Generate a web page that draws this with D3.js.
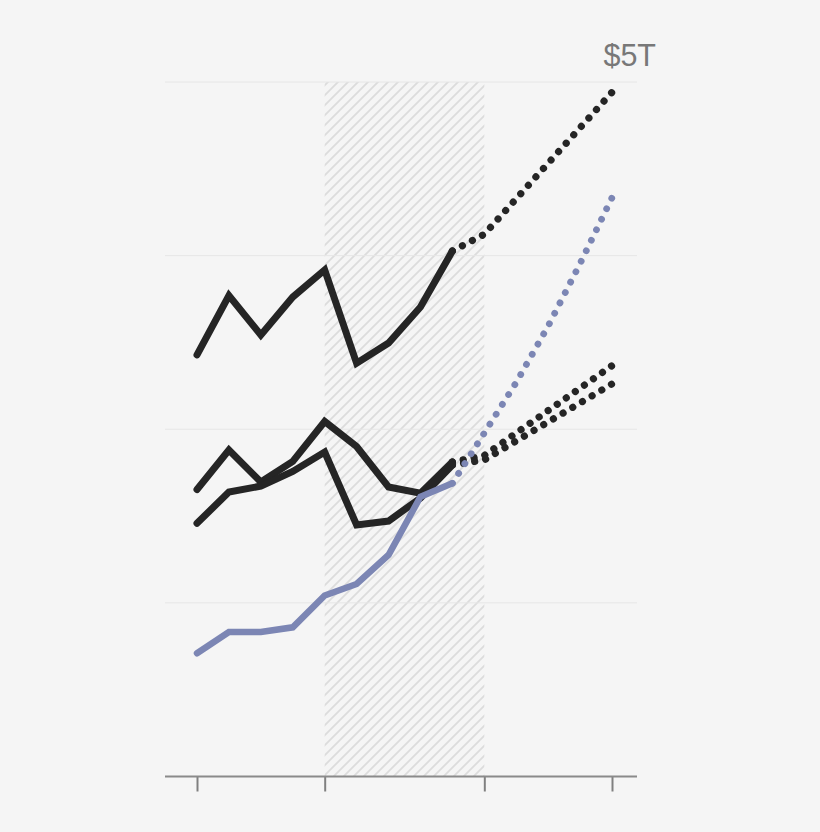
<!DOCTYPE html>
<html>
<head>
<meta charset="utf-8">
<script src="https://cdn.jsdelivr.net/npm/d3@7"></script>
<style>
  html, body { margin: 0; padding: 0; background: #f5f5f5; }
  svg { display: block; }
</style>
</head>
<body>
<script>
// ---- Data (values in $ trillions) ----
const years = [2007, 2008, 2009, 2010, 2011, 2012, 2013, 2014, 2015];
const seriesA = [3.035, 3.463, 3.179, 3.452, 3.647, 2.975, 3.121, 3.380, 3.783];
const seriesB = [2.066, 2.351, 2.120, 2.268, 2.556, 2.376, 2.084, 2.039, 2.264];
const seriesC = [1.823, 2.048, 2.091, 2.196, 2.336, 1.811, 1.839, 2.005, 2.243];
const seriesBlue = [0.887, 1.040, 1.040, 1.074, 1.303, 1.386, 1.595, 2.014, 2.111];

const projYearsBlack = [2015, 2016, 2020];
const projA = [3.783, 3.904, 4.926];
const projB = [2.264, 2.311, 2.958];
const projC = [2.243, 2.279, 2.826];
const projYearsBlue = [2015, 2016, 2017, 2018, 2019, 2020];
const projBlue = [2.111, 2.473, 2.837, 3.243, 3.693, 4.167];

const gridValues = [1.25, 2.5, 3.75, 5];
const tickYears = [2007, 2011, 2016, 2020];
const shadedRange = [2011, 2016];
const topLabel = "$5T";

// ---- Layout ----
const W = 820, H = 832;
const svg = d3.select("body").append("svg").attr("width", W).attr("height", H);
svg.append("rect").attr("width", W).attr("height", H).attr("fill", "#f5f5f5");

const x = d3.scaleLinear().domain([2007, 2020]).range([197, 612]);
const y = d3.scaleLinear().domain([0, 5]).range([776.5, 82]);
const xLeft = 165, xRight = 637;

// hatch pattern
const defs = svg.append("defs");
const pat = defs.append("pattern")
  .attr("id", "hatch").attr("patternUnits", "userSpaceOnUse")
  .attr("width", 10).attr("height", 10);
pat.append("rect").attr("width", 10).attr("height", 10).attr("fill", "#f5f5f5");
pat.append("path").attr("d", "M-1,1 l2,-2 M0,10 l10,-10 M9,11 l2,-2")
  .attr("stroke", "#dcdcdc").attr("stroke-width", 1.7);

svg.append("rect")
  .attr("x", x(shadedRange[0])).attr("y", y(5))
  .attr("width", x(shadedRange[1]) - x(shadedRange[0]))
  .attr("height", y(0) - y(5))
  .attr("fill", "url(#hatch)");

// gridlines
svg.append("g").selectAll("line").data(gridValues).join("line")
  .attr("x1", xLeft).attr("x2", xRight)
  .attr("y1", d => y(d)).attr("y2", d => y(d))
  .attr("stroke", "#e6e6e6").attr("stroke-width", 1);

// axis
const axis = d3.axisBottom(x).tickValues(tickYears).tickSize(15).tickFormat("");
const gAxis = svg.append("g").attr("transform", `translate(0,${y(0)})`).call(axis);
gAxis.select(".domain").remove();
gAxis.selectAll(".tick line").attr("stroke", "#808080").attr("stroke-width", 2);
svg.append("line").attr("x1", xLeft).attr("x2", xRight)
  .attr("y1", y(0)).attr("y2", y(0))
  .attr("stroke", "#8a8a8a").attr("stroke-width", 2);

// label
svg.append("text").attr("x", 656).attr("y", 65.5)
  .attr("text-anchor", "end")
  .attr("font-family", "Liberation Sans, Arial, sans-serif")
  .attr("font-size", 30.5).attr("fill", "#787878")
  .text(topLabel);

const line = d3.line().x(d => x(d[0])).y(d => y(d[1]));
const zip = (xs, vs) => xs.map((v, i) => [v, vs[i]]);

const black = "#252525", blue = "#7c86b4";

function dotted(data, color, width, spacing) {
  const p = svg.append("path").datum(data).attr("d", line)
    .attr("fill", "none").attr("stroke", color).attr("stroke-width", width)
    .attr("stroke-linecap", "round");
  const L = p.node().getTotalLength();
  const n = Math.max(1, Math.round(L / spacing));
  p.attr("stroke-dasharray", `0.01 ${(L - 0.6) / n - 0.01}`);
  return p;
}

// projections (dotted)
[projA, projB, projC].forEach(p => dotted(zip(projYearsBlack, p), black, 7.2, 11.4));

// solid black lines
[seriesA, seriesB, seriesC].forEach(s => {
  svg.append("path").datum(zip(years, s)).attr("d", line)
    .attr("fill", "none").attr("stroke", black).attr("stroke-width", 7)
    .attr("stroke-linecap", "round").attr("stroke-linejoin", "miter");
});

// blue
dotted(zip(projYearsBlue, projBlue), blue, 6.8, 11.8);
svg.append("path").datum(zip(years, seriesBlue)).attr("d", line)
  .attr("fill", "none").attr("stroke", blue).attr("stroke-width", 6.5)
  .attr("stroke-linecap", "round").attr("stroke-linejoin", "miter");
</script>
</body>
</html>
